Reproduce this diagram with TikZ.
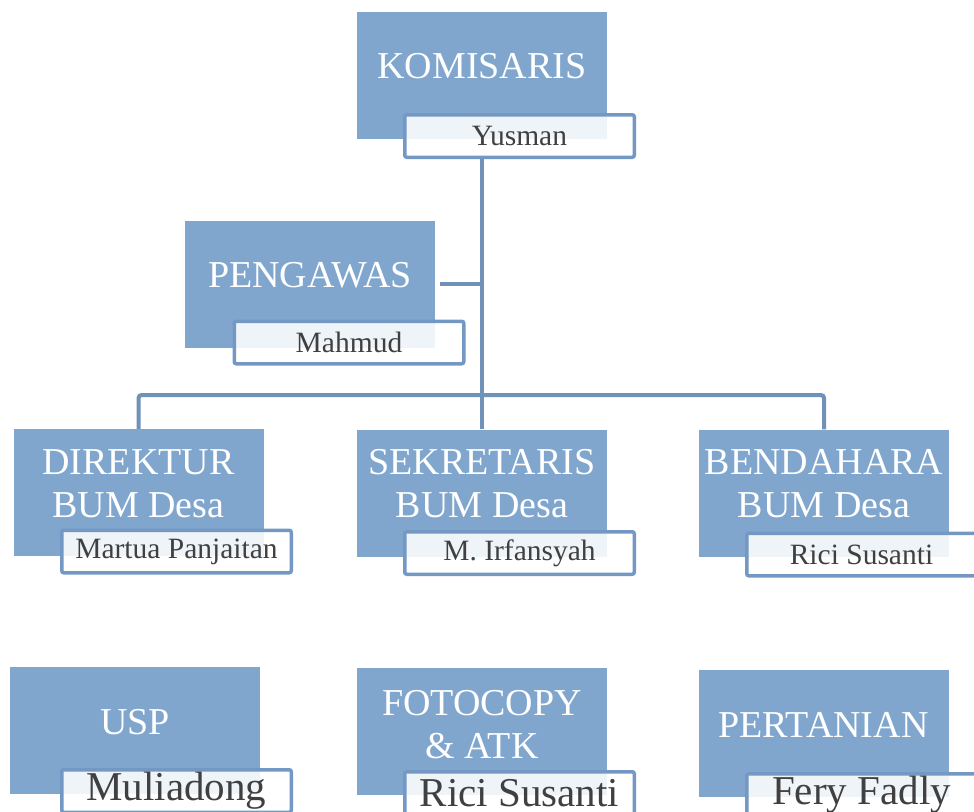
\documentclass[tikz,border=0pt]{standalone}
\usepackage{fontspec}
\setmainfont{Liberation Serif}
\usepackage{tikz}
\usetikzlibrary{positioning,shapes}

\definecolor{bumblau}{RGB}{128,166,206}
\definecolor{randblau}{RGB}{116,152,196}
\definecolor{linienblau}{RGB}{112,145,184}
\definecolor{namagrau}{RGB}{64,64,64}

\begin{document}
\begin{tikzpicture}[
                x=1pt, y=-1pt,
                einheit/.style={rectangle, fill=bumblau, minimum width=250pt, minimum height=127pt, inner sep=0pt},
                titel/.style={text=white, align=center, inner sep=0pt, font=\fontsize{38}{43}\selectfont},
                nama/.style={rectangle, draw=randblau, line width=3.5pt, rounded corners=2pt, fill=white, fill opacity=0.88, text opacity=1, text=namagrau, minimum width=229.5pt, minimum height=42.5pt, inner sep=0pt, font=\fontsize{29.5}{31}\selectfont},
                namabesar/.style={nama, font=\fontsize{41}{44}\selectfont},
                linie/.style={draw=linienblau, line width=4pt}
            ]
            \useasboundingbox (0,0) rectangle (974,811);

            \node[einheit] (Komisaris) at (482,75) {};
            \node[einheit] (Pengawas) at (310,284) {};
            \node[einheit] (Direktur) at (138.5,492.5) {};
            \node[einheit] (Sekretaris) at (482,493) {};
            \node[einheit] (Bendahara) at (824,493) {};
            \node[einheit] (Usp) at (135,730.5) {};
            \node[einheit] (Fotocopy) at (482,731.5) {};
            \node[einheit] (Pertanian) at (823.5,733.5) {};

            \node[titel] (Komisaris_titel) at (482,66) {KOMISARIS};
            \node[titel] (Pengawas_titel) at (310,275) {PENGAWAS};
            \node[titel] (Direktur_titel) at (138.5,483.5) {DIREKTUR\\BUM Desa};
            \node[titel] (Sekretaris_titel) at (482,484) {SEKRETARIS\\BUM Desa};
            \node[titel] (Bendahara_titel) at (824,484) {BENDAHARA\\BUM Desa};
            \node[titel] (Usp_titel) at (135,722.5) {USP};
            \node[titel] (Fotocopy_titel) at (482,725) {FOTOCOPY\\\& ATK};
            \node[titel] (Pertanian_titel) at (823.5,724.5) {PERTANIAN};

            \node[nama] (Komisaris_nama) at (519.5,136) {Yusman};
            \node[nama] (Pengawas_nama) at (349,342.5) {Mahmud};
            \node[nama] (Direktur_nama) at (176.5,551.5) {Martua Panjaitan};
            \node[nama] (Sekretaris_nama) at (519.5,553) {M. Irfansyah};
            \node[nama] (Bendahara_nama) at (861.5,554.5) {Rici Susanti};
            \node[namabesar] (Usp_nama) at (176.5,791) {Muliadong};
            \node[namabesar] (Fotocopy_nama) at (519.5,793) {Rici Susanti};
            \node[namabesar] (Pertanian_nama) at (861.5,795) {Fery Fadly};

            \coordinate (Verteiler) at (482,395);

            \draw[linie] (Komisaris.center |- Komisaris_nama.south) -- (Sekretaris.north);
            \draw[linie] ([xshift=5pt]Pengawas.east) -- (Pengawas.east -| Verteiler);
            \draw[linie, rounded corners=3pt] (Direktur.north) -- (Direktur.north |- Verteiler) -- (Bendahara.north |- Verteiler) -- (Bendahara.north);
        \end{tikzpicture}
\end{document}
